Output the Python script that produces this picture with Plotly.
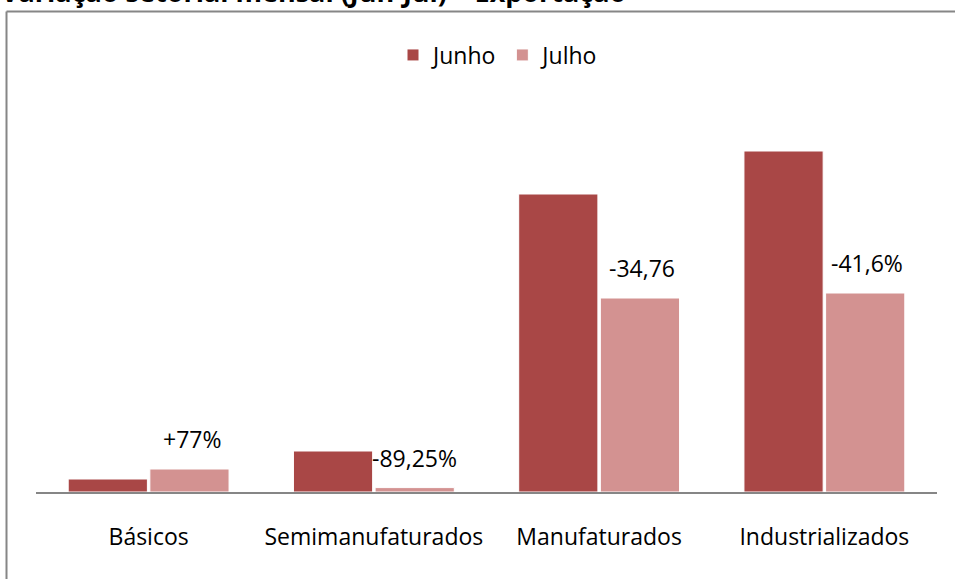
import plotly.graph_objects as go

categories = ["Básicos", "Semimanufaturados", "Manufaturados", "Industrializados"]
junho = [13, 41, 298, 341]
julho = [23, 4.4, 194, 199]
julho_labels = ["+77%", "-89,25%", "-34,76", "-41,6%"]
title_text = "Variação setorial mensal (Jun-Jul) – Exportação"

FONT = "'Open Sans', sans-serif"
c_jun = "#A94746"
c_jul = "#D39291"

fig = go.Figure()
fig.add_trace(go.Bar(name="Junho", x=categories, y=junho, marker=dict(color=c_jun, line=dict(color="white", width=1))))
fig.add_trace(go.Bar(name="Julho", x=categories, y=julho, marker=dict(color=c_jul, line=dict(color="white", width=1))))

L, R, T, B = 36, 18, 92, 87
W, H = 955, 579
pw = W - L - R
ph = H - T - B

for i, (cat, v, lab) in enumerate(zip(categories, julho, julho_labels)):
    fig.add_annotation(x=cat, y=v, xref="x", yref="y", text=lab, showarrow=False,
                       xshift=43 if i != 1 else 41, yshift=12, yanchor="bottom",
                       font=dict(family=FONT, size=23, color="#000"))

# title (partially cut at top, as in the reference)
fig.add_annotation(x=(-1 - L) / pw, y=(H - B - 12) / ph, xref="paper", yref="paper",
                   xanchor="left", yanchor="bottom", text="<b>" + title_text + "</b>",
                   showarrow=False, font=dict(family=FONT, size=27, color="#000"))

# outer frame lines (left and top)
fx0 = (6.5 - L) / pw
fy0 = (H - B - 11.5) / ph
fig.add_shape(type="line", xref="paper", yref="paper", x0=fx0, x1=1.05, y0=fy0, y1=fy0,
              line=dict(color="#868686", width=2))
fig.add_shape(type="line", xref="paper", yref="paper", x0=fx0, x1=fx0, y0=fy0, y1=-0.3,
              line=dict(color="#868686", width=2))

fig.update_layout(
    width=W, height=H,
    margin=dict(l=L, r=R, t=T, b=B, pad=0),
    paper_bgcolor="white", plot_bgcolor="white",
    barmode="group", bargap=0.275, bargroupgap=0.03,
    font=dict(family=FONT, size=23, color="#000"),
    showlegend=True,
    legend=dict(orientation="h", x=0.5 + 12 / pw, xanchor="center", y=(H - B - 55) / ph, yanchor="middle",
                font=dict(family=FONT, size=23), itemwidth=30, bgcolor="rgba(0,0,0,0)"),
    xaxis=dict(showline=True, linecolor="#868686", linewidth=2, ticks="", showgrid=False,
               tickfont=dict(family=FONT, size=23), ticklabelstandoff=23),
    yaxis=dict(range=[0, ph], visible=False, showgrid=False, zeroline=False),
)

fig.write_html("out.html", config={"displayModeBar": False},
               post_script="document.body.style.margin='0';document.body.style.overflow='hidden';")
